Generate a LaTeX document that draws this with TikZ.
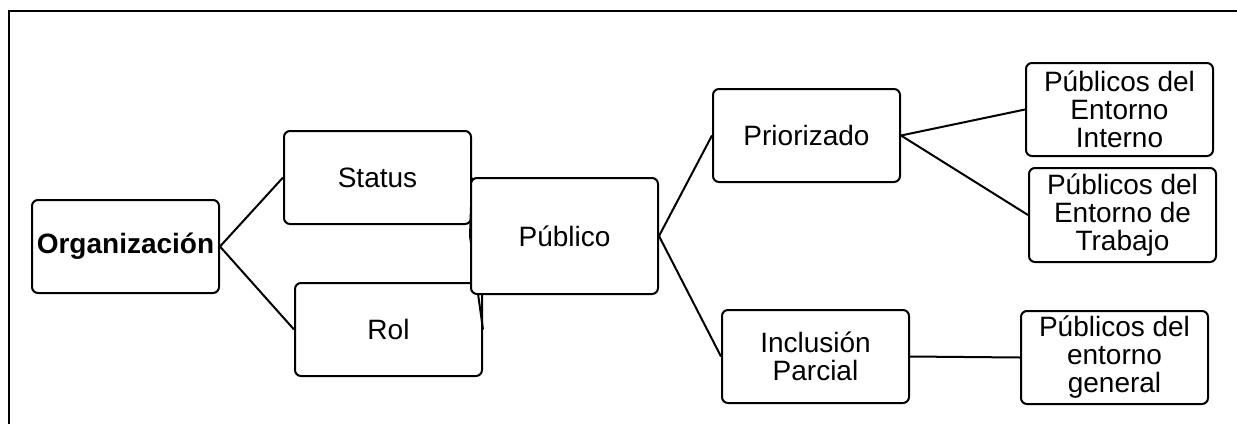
\documentclass[tikz,border=0pt]{standalone}
\usepackage{fontspec}
\setmainfont{Liberation Sans}
\pgfdeclarelayer{front}
\pgfsetlayers{main,front}
\begin{document}
\begin{tikzpicture}[x=1pt,y=-1pt,
  box/.style={draw, line width=2pt, rounded corners=6pt, fill=white,
    minimum width=187pt, minimum height=93pt, inner sep=0pt, align=center,
    font={\fontsize{28}{28}\selectfont}},
  link/.style={line width=2pt}]
\useasboundingbox (0,0) rectangle (1237,424);
\draw[line width=2pt] (9,424) -- (9,11) -- (1237,11);
\node[box] (org) at (125.5,246.5) {\textbf{Organización}};
\node[box] (status) at (377.5,177.5) {Status};
\node[box] (rol) at (388.5,329.5) {Rol};
\begin{pgfonlayer}{front}
\node[box, minimum height=116pt] (pub) at (564.5,236) {Público};
\end{pgfonlayer}
\node[box] (prio) at (806.5,135.5) {Priorizado};
\node[box] (incl) at (815.5,356.5) {Inclusión\\Parcial};
\node[box] (int) at (1119.5,109.5) {Públicos del\\Entorno\\Interno};
\node[box, minimum height=94pt] (trab) at (1122.5,215) {Públicos del\\Entorno de\\Trabajo};
\node[box] (gen) at (1114.5,357.5) {Públicos del\\entorno\\general};
\draw[link] (org.east) -- (status.west);
\draw[link] (org.east) -- (rol.west);
\draw[link] (status.east) -- (pub.west);
\draw[link] (rol.east) -- (pub.west);
\draw[link] (pub.east) -- (prio.west);
\draw[link] (pub.east) -- (incl.west);
\draw[link] (prio.east) -- (int.west);
\draw[link] (prio.east) -- (trab.west);
\draw[link] (incl.east) -- (gen.west);
\end{tikzpicture}
\end{document}
